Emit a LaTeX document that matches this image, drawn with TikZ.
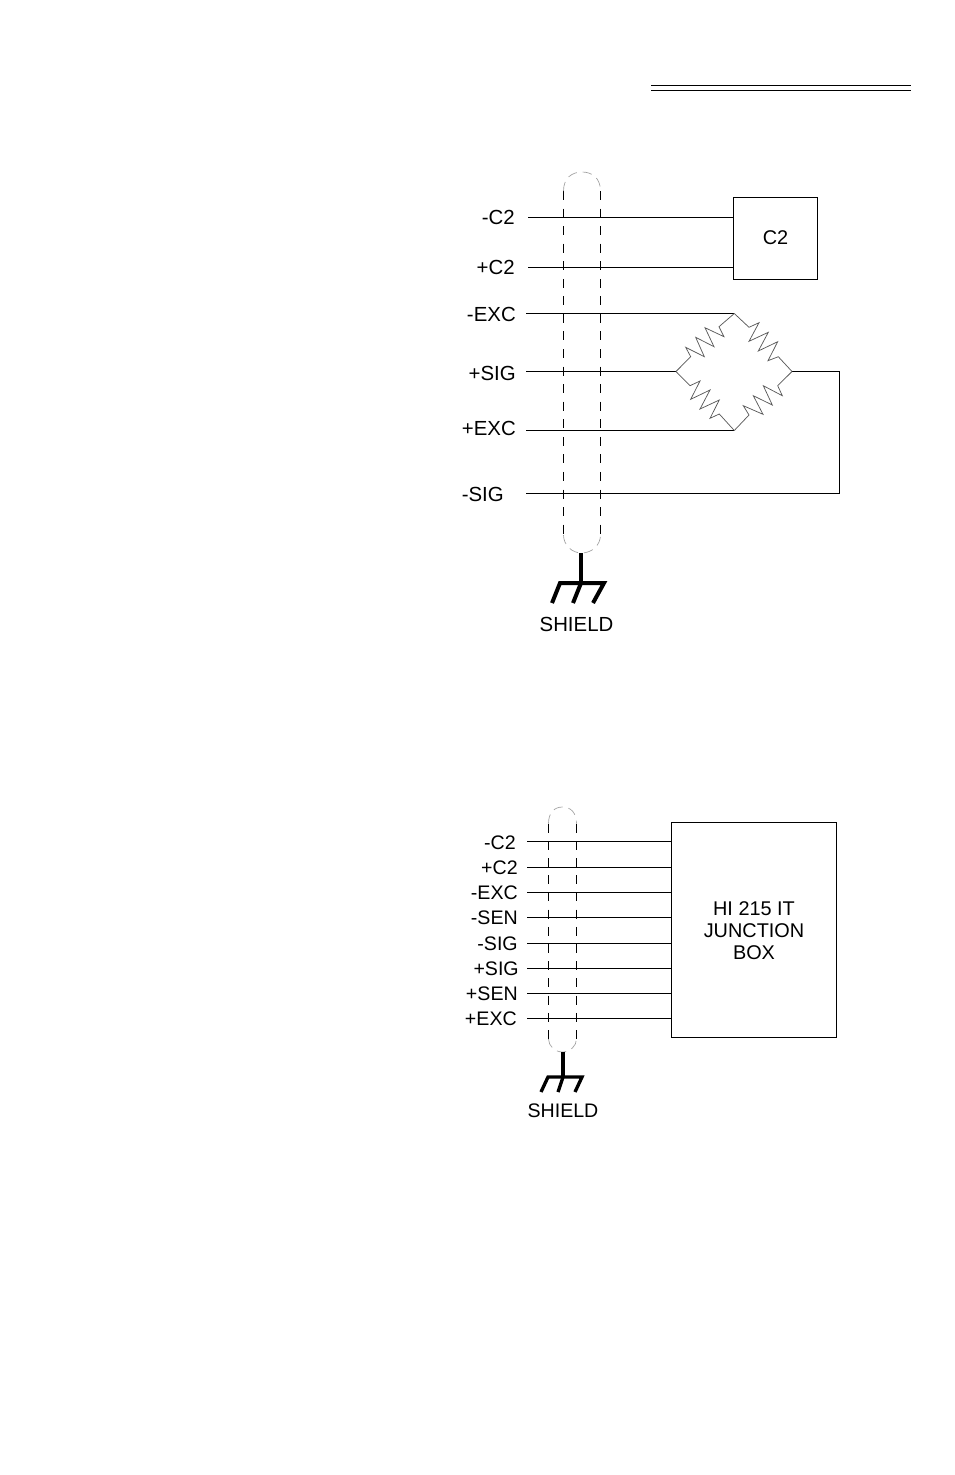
\documentclass[tikz,border=0pt]{standalone}
\usepackage{fontspec}
\setmainfont{Liberation Sans}
\tikzset{
  x=0.75pt,y=-0.75pt,
  wire/.style={line width=0.75pt,black},
  boxnode/.style={draw,line width=0.75pt,inner sep=0pt,align=center},
  boxtxt/.style={inner sep=0pt,align=center,font=\fontsize{14.9}{16.5}\selectfont},
  lbl/.style={inner sep=0pt,font=\fontsize{15.3}{17}\selectfont},
  lbltwo/.style={inner sep=0pt,font=\fontsize{14.7}{16.5}\selectfont},
  shieldone/.style={line width=0.75pt,dash pattern=on 6.75pt off 6.42pt},
  shieldtwo/.style={line width=0.75pt,dash pattern=on 6.75pt off 6.15pt},
  shieldcap/.style={line width=0.5pt,gray!75,dash pattern=on 7pt off 4.5pt},
  gnd/.style={line width=3pt,line cap=butt},
  gndtwo/.style={line width=2.5pt,line cap=butt},
  zig/.style={line width=0.55pt,black!65,line join=miter},
  rule/.style={line width=1.3pt}
}
\begin{document}
\begin{tikzpicture}
\useasboundingbox (0,0) rectangle (954,1475);
% header rules
\coordinate (ra) at (651,85.5); \coordinate (rb) at (911,85.5);
\coordinate (rc) at (651,90.5); \coordinate (rd) at (911,90.5);
\draw[rule] (ra) -- (rb);
\draw[rule] (rc) -- (rd);

% ---------- upper diagram ----------
\node[boxnode,minimum width=63pt,minimum height=61.5pt] (c2box) at (775,238) {};
\node[boxtxt] (c2txt) at (775.5,238) {C2};
\node[lbl,anchor=east] (lnc2) at (515,217) {-C2};
\node[lbl,anchor=east] (lpc2) at (515,267) {+C2};
\node[lbl,anchor=east] (lnexc) at (516,314) {-EXC};
\node[lbl,anchor=east] (lpsig) at (516,373) {+SIG};
\node[lbl,anchor=east] (lpexc) at (516,428) {+EXC};
\node[lbl,anchor=east] (lnsig) at (504,494) {-SIG};
\node[lbl,anchor=north] (lsh) at (576.5,617) {SHIELD};

\coordinate (a1) at (528,217.5); \coordinate (a2) at (528,267.5);
\coordinate (a3) at (526,313.5); \coordinate (a4) at (526,371.5);
\coordinate (a5) at (526,430.5); \coordinate (a6) at (526,493.5);
\coordinate (top) at (734.3,313.5); \coordinate (lft) at (676,371.5);
\coordinate (rgt) at (792,371.5); \coordinate (bot) at (734.3,430.5);
\coordinate (cor1) at (839.5,371.5); \coordinate (cor2) at (839.5,493.5);

\draw[wire] (a1) -- (a1 -| c2box.west);
\draw[wire] (a2) -- (a2 -| c2box.west);
\draw[wire] (a3) -- (top);
\draw[wire] (a4) -- (lft);
\draw[wire] (a5) -- (bot);
\draw[wire] (a6) -- (cor2) -- (cor1) -- (rgt);

\draw[zig] (top) -- (719,326.7) -- (724,336.7) -- (705,327.7) -- (714,346.7) -- (695.7,337.3) -- (704.3,356.7) -- (685.7,347.3) -- (690.7,356.7) -- (lft);
\draw[zig] (top) -- (749,327.3) -- (759,322.7) -- (749,341.3) -- (768.3,332.3) -- (758.3,351) -- (777.7,341.7) -- (768,360.7) -- (778.3,356.7) -- (rgt);
\draw[zig] (lft) -- (690,385.7) -- (700,381) -- (690.7,399.3) -- (710,390) -- (700,409) -- (719.3,400) -- (710,418.3) -- (719.3,414) -- (bot);
\draw[zig] (rgt) -- (777.7,385.7) -- (782.3,395.7) -- (763.3,385.7) -- (772.3,405) -- (753.3,395.7) -- (763,414.3) -- (743.3,405.7) -- (749,415) -- (bot);

% shield 1
\coordinate (s1lt) at (563.5,191); \coordinate (s1lb) at (563.5,535);
\coordinate (s1rt) at (600.5,191); \coordinate (s1rb) at (600.5,535);
\coordinate (s1bm) at (581.5,553);
\draw[shieldone] (s1lt) -- (s1lb);
\draw[shieldone] (s1rt) -- (s1rb);
\draw[shieldcap] (s1lt) .. controls (563.5,178) and (572,172) .. (582,172) .. controls (592,172) and (600.5,178) .. (s1rt);
\draw[shieldcap] (s1lb) .. controls (563.5,545) and (572,553) .. (s1bm) .. controls (592,553) and (600.5,545) .. (s1rb);
% ground 1
\coordinate (g1m) at (581,583); \coordinate (g1l) at (560,583); \coordinate (g1r) at (604,583);
\coordinate (g1la) at (552,603); \coordinate (g1ma) at (573,603); \coordinate (g1ra) at (593,603);
\draw[gnd] (s1bm -| g1m) -- (g1m);
\draw[gnd,line join=miter] (g1la) -- (g1l) -- (g1r) -- (g1ra);
\draw[gnd] (g1m) -- (g1ma);

% ---------- lower diagram ----------
\node[boxnode,minimum width=123.75pt,minimum height=161.25pt] (jbox) at (754,930) {};
\node[boxtxt] (jtxt) at (754,930.5) {HI 215 IT\\JUNCTION\\BOX};
\node[lbltwo,anchor=east] (m1) at (516,843) {-C2};
\node[lbltwo,anchor=east] (m2) at (518,868) {+C2};
\node[lbltwo,anchor=east] (m3) at (518,893) {-EXC};
\node[lbltwo,anchor=east] (m4) at (518,918) {-SEN};
\node[lbltwo,anchor=east] (m5) at (518,944) {-SIG};
\node[lbltwo,anchor=east] (m6) at (519,969) {+SIG};
\node[lbltwo,anchor=east] (m7) at (518,994) {+SEN};
\node[lbltwo,anchor=east] (m8) at (517,1019) {+EXC};
\node[lbltwo,anchor=north] (lsh2) at (563,1104) {SHIELD};

\foreach \yy/\nm in {841.5/b1,867.5/b2,892.5/b3,917.5/b4,943.5/b5,968.5/b6,993.5/b7,1018.5/b8}{
  \coordinate (\nm) at (527,\yy);
  \draw[wire] (\nm) -- (\nm -| jbox.west);
}
% shield 2
\coordinate (s2lt) at (548.5,823.6); \coordinate (s2lb) at (548.5,1039);
\coordinate (s2rt) at (576.5,823.6); \coordinate (s2rb) at (576.5,1039);
\coordinate (s2bm) at (562.5,1052);
\draw[shieldtwo] (s2lt) -- (s2lb);
\draw[shieldtwo] (s2rt) -- (s2rb);
\draw[shieldcap] (s2lt) .. controls (548.5,813) and (554,807) .. (562.5,807) .. controls (571,807) and (576.5,813) .. (s2rt);
\draw[shieldcap] (s2lb) .. controls (548.5,1046) and (555,1052) .. (s2bm) .. controls (570,1052) and (576.5,1046) .. (s2rb);
% ground 2
\coordinate (g2m) at (563,1077); \coordinate (g2l) at (548,1077); \coordinate (g2r) at (582,1077);
\coordinate (g2la) at (541,1092); \coordinate (g2ma) at (558,1092); \coordinate (g2ra) at (575,1092);
\draw[gndtwo] (s2bm -| g2m) -- (g2m);
\draw[gndtwo,line join=miter] (g2la) -- (g2l) -- (g2r) -- (g2ra);
\draw[gndtwo] (g2m) -- (g2ma);
\end{tikzpicture}
\end{document}
